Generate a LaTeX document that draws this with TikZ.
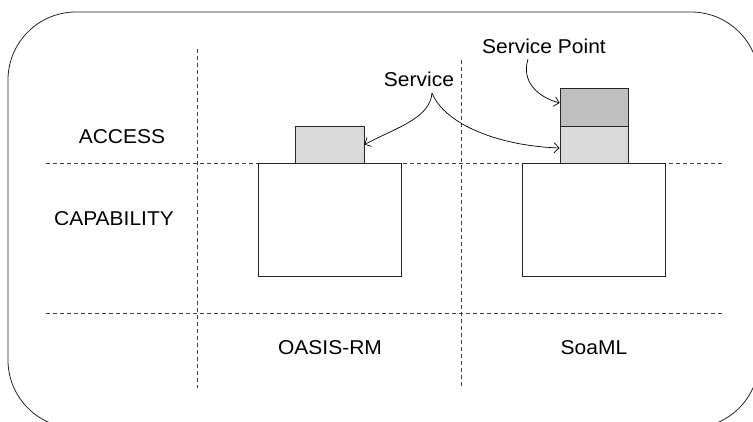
\documentclass[tikz,border=0pt]{standalone}
\usepackage{fontspec}
\setmainfont{Liberation Sans}
\newfontfamily\labfont[FakeStretch=1.05]{Liberation Sans}
\usetikzlibrary{arrows.meta}
\definecolor{lightbox}{HTML}{D9D9D9}
\definecolor{darkbox}{HTML}{BFBFBF}
\tikzset{
  boxshape/.style={draw=black!85, line width=0.8pt, inner sep=0pt, fill=white},
  lbl/.style={font=\labfont\fontsize{20}{23}\selectfont, inner sep=0pt, text=black},
  grid/.style={draw=black!75, line width=0.7pt, dash pattern=on 4pt off 3pt},
  conn/.style={draw=black, line width=0.7pt, -{Straight Barb[length=5pt,width=10pt]}}
}
\begin{document}
\begin{tikzpicture}[x=1pt,y=-1pt]
\useasboundingbox (0,0) rectangle (753,421);
\clip (0,0) rectangle (753,421);
\fill[white] (0,0) rectangle (753,421);
% outer rounded frame
\draw[black!85, line width=0.8pt, rounded corners=68pt] (8,12) rectangle (759,428);
% grid lines
\coordinate (h1a) at (46,163); \coordinate (h1b) at (725,163);
\coordinate (h2a) at (46,313); \coordinate (h2b) at (725,313);
\coordinate (v1a) at (197,49);  \coordinate (v1b) at (197,388);
\coordinate (v2a) at (461,60);  \coordinate (v2b) at (461,387);
\draw[grid] (h1a) -- (h1b);
\draw[grid] (h2a) -- (h2b);
\draw[grid] (v1a) -- (v1b);
\draw[grid] (v2a) -- (v2b);
% boxes
\node[boxshape, minimum width=143.5pt, minimum height=113pt] (oasisCap) at (330,219.5) {};
\node[boxshape, fill=lightbox, minimum width=69pt, minimum height=37pt] (oasisAcc) at (329.5,144.5) {};
\node[boxshape, minimum width=143pt, minimum height=113pt] (soaCap) at (593.5,219.5) {};
\node[boxshape, fill=lightbox, minimum width=68pt, minimum height=37pt] (soaAcc) at (594,144.5) {};
\node[boxshape, fill=darkbox, minimum width=68pt, minimum height=38pt] (soaPt) at (594,107) {};
% labels
\node[lbl] (access) at (122,137) {ACCESS};
\node[lbl] (capab) at (114,219) {CAPABILITY};
\node[lbl] (oasis) at (330,348) {OASIS-RM};
\node[lbl] (soaml) at (594,348) {SoaML};
\node[lbl] (svc) at (419,79) {Service};
\node[lbl] (svcpt) at (544,46) {Service Point};
% connectors
\coordinate (svcfoot) at (432,93);
\coordinate (ptfoot) at (528,59);
\draw[conn] (svcfoot) .. controls (430,118) and (398,127) .. (oasisAcc.east);
\draw[conn] (svcfoot) .. controls (445,125) and (500,146) .. ([yshift=-3.5pt]soaAcc.west);
\draw[conn] (ptfoot) .. controls (521,82) and (538,97) .. ([yshift=4pt]soaPt.west);
\end{tikzpicture}
\end{document}
